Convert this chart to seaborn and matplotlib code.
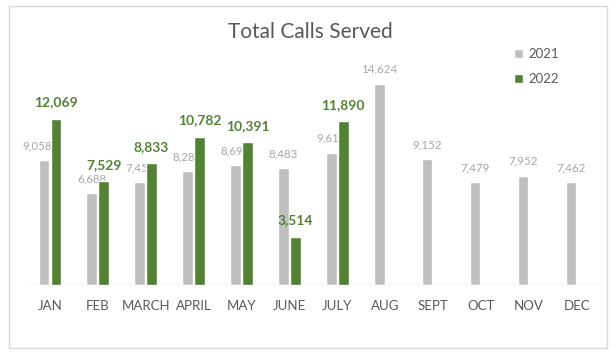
import pandas as pd
import numpy as np
import matplotlib.pyplot as plt
import seaborn as sns
from matplotlib.patches import Rectangle

# Data
months = ['JAN', 'FEB', 'MARCH', 'APRIL', 'MAY', 'JUNE', 'JULY', 'AUG', 'SEPT', 'OCT', 'NOV', 'DEC']
calls_2021 = [9058, 6688, 7454, 8281, 8694, 8483, 9611, 14624, 9152, 7479, 7952, 7462]
calls_2022 = [12069, 7529, 8833, 10782, 10391, 3514, 11890]

gray = '#bfbfbf'
green = '#548235'

# long format for seaborn
df = pd.DataFrame({
    'Month': months * 2,
    'Year': ['2021'] * 12 + ['2022'] * 12,
    'Calls': calls_2021 + calls_2022 + [np.nan] * (12 - len(calls_2022)),
})

sns.set_style('white')
plt.rcParams['font.family'] = ['Lato', 'DejaVu Sans']

fig = plt.figure(figsize=(6.15, 3.57), dpi=100)
ax = fig.add_axes([0.042, 0.2017, 0.935, 0.655])

sns.barplot(data=df, x='Month', y='Calls', hue='Year', order=months,
            palette={'2021': gray, '2022': green}, width=0.5, gap=0.12,
            saturation=1, ax=ax, legend=True)

# data labels
for cont, year in zip(ax.containers, ['2021', '2022']):
    vals = calls_2021 if year == '2021' else calls_2022
    labels = [f'{v:,}' for v in vals] + [''] * (len(cont) - len(vals))
    if year == '2021':
        txts = ax.bar_label(cont, labels=labels, padding=6.5, color='#a6a6a6', fontsize=8.3)
        for t in txts:
            t.set_zorder(0.5)
        # the JAN label sits a bit to the left in the original
        txts[0].xyann = (txts[0].xyann[0] - 5, txts[0].xyann[1])
    else:
        ax.bar_label(cont, labels=labels, padding=7.5, color=green, fontsize=10,
                     fontweight='bold')

ax.set_ylim(0, 17000)
ax.set_xlim(-0.5, 11.5)
ax.set_yticks([])
ax.set_xlabel('')
ax.set_ylabel('')
ax.tick_params(axis='x', length=0, pad=11, labelsize=9.5, labelcolor='#595959')
for s in ax.spines.values():
    s.set_visible(False)
ax.axhline(0, color='#d9d9d9', lw=1, zorder=0)

ax.legend(loc='upper left', bbox_to_anchor=(0.835, 0.865), bbox_transform=fig.transFigure,
          frameon=False, fontsize=9.5, labelcolor='#595959', handlelength=0.7,
          handleheight=0.7, handletextpad=0.4, labelspacing=1.0, borderpad=0,
          borderaxespad=0)

fig.text(0.505, 0.91, 'Total Calls Served', ha='center', va='center',
         fontsize=15, color='#595959')

# chart border
fig.patches.append(Rectangle((9 / 615, 9 / 357), 598 / 615, 342 / 357,
                             transform=fig.transFigure, fill=False,
                             edgecolor='#d9d9d9', lw=1))

plt.savefig('out.png', dpi=100)
